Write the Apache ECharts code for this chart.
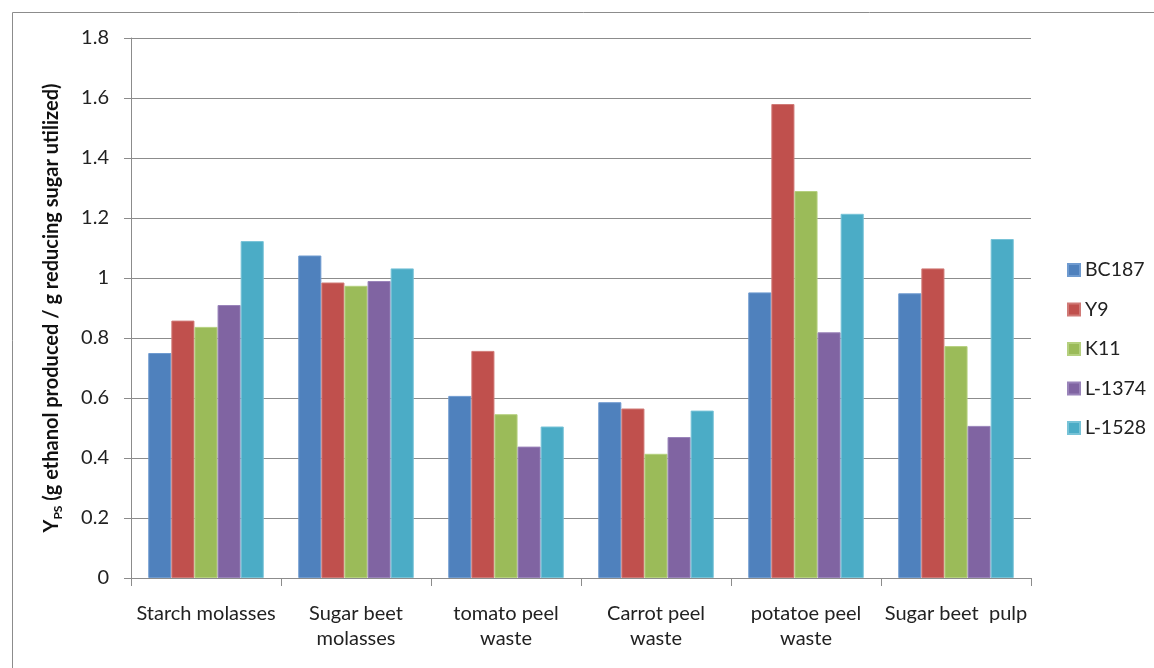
<!DOCTYPE html>
<html>
<head>
<meta charset="utf-8">
<script src="https://cdn.jsdelivr.net/npm/echarts@6/dist/echarts.min.js"></script>
<style>
  html, body { margin: 0; padding: 0; background: #fff; }
  #chart { width: 1154px; height: 668px; }
</style>
</head>
<body>
<div id="chart"></div>
<script>
// Substrates on the category axis
const categories = [
  'Starch molasses',
  'Sugar beet\nmolasses',
  'tomato peel\nwaste',
  'Carrot peel\nwaste',
  'potatoe peel\nwaste',
  'Sugar beet  pulp'
];

// Ethanol yield Y_PS per yeast strain, one value per substrate
const bc187 = [0.75, 1.075, 0.607, 0.586, 0.952, 0.949];
const y9    = [0.858, 0.985, 0.757, 0.565, 1.58, 1.032];
const k11   = [0.837, 0.974, 0.546, 0.414, 1.29, 0.773];
const l1374 = [0.91, 0.99, 0.438, 0.47, 0.819, 0.507];
const l1528 = [1.123, 1.032, 0.505, 0.558, 1.214, 1.13];

const seriesNames = ['BC187', 'Y9', 'K11', 'L-1374', 'L-1528'];
const seriesData = [bc187, y9, k11, l1374, l1528];
const colors = ['#4F81BD', '#C0504D', '#9BBB59', '#8064A2', '#4BACC6'];
const borders = ['#6f9bd0', '#d07a77', '#b5d07f', '#9a84ba', '#78c3d7'];

const yTicks = { min: 0, max: 1.8, interval: 0.2 };

const font = 'Lato, "Open Sans", sans-serif';

const chart = echarts.init(document.getElementById('chart'), null, { renderer: 'canvas' });

chart.setOption({
  animation: false,
  backgroundColor: '#fff',
  color: colors,
  textStyle: { fontFamily: font },
  graphic: [{
    type: 'rect',
    shape: { x: 12.5, y: 12.5, width: 1200, height: 700 },
    style: { fill: 'none', stroke: '#8c8c8c', lineWidth: 1 },
    silent: true
  }],
  grid: { left: 131, right: 123, top: 38, bottom: 90, containLabel: false },
  legend: {
    orient: 'vertical',
    left: 1062,
    top: 255,
    itemWidth: 12,
    itemHeight: 12,
    itemGap: 19.5,
    icon: 'rect',
    textStyle: { fontFamily: font, fontSize: 19.5, color: '#222', lineHeight: 20 },
    data: seriesNames
  },
  xAxis: {
    type: 'category',
    data: categories,
    axisLine: { lineStyle: { color: '#8c8c8c', width: 1 } },
    axisTick: { show: true, length: 8, alignWithLabel: false, lineStyle: { color: '#8c8c8c' } },
    axisLabel: {
      interval: 0,
      margin: 23,
      fontFamily: font,
      fontSize: 20,
      lineHeight: 25,
      color: '#222'
    }
  },
  yAxis: {
    type: 'value',
    min: yTicks.min,
    max: yTicks.max,
    interval: yTicks.interval,
    name: '{a|Y}{s|PS}{a| (g ethanol produced / g reducing sugar utilized)}',
    nameLocation: 'middle',
    nameGap: 67,
    nameRotate: 90,
    nameTextStyle: {
      rich: {
        a: { fontFamily: font, fontSize: 20, fontWeight: 'bold', color: '#111', lineHeight: 24 },
        s: { fontFamily: font, fontSize: 12, fontWeight: 'bold', color: '#111', verticalAlign: 'bottom', lineHeight: 16, padding: [7, 0, 0, 0] }
      }
    },
    axisLine: { show: true, lineStyle: { color: '#8c8c8c', width: 1 } },
    axisTick: { show: true, length: 7, lineStyle: { color: '#8c8c8c' } },
    splitLine: { show: true, lineStyle: { color: '#8c8c8c', width: 1 } },
    axisLabel: {
      margin: 22,
      fontFamily: font,
      fontSize: 20,
      color: '#222',
      formatter: v => (Math.round(v * 10) / 10).toString()
    }
  },
  series: seriesNames.map((name, i) => ({
    name,
    type: 'bar',
    data: seriesData[i],
    barGap: '0%',
    barCategoryGap: '23%',
    itemStyle: { color: colors[i], borderColor: borders[i], borderWidth: 1 }
  }))
});
</script>
</body>
</html>
